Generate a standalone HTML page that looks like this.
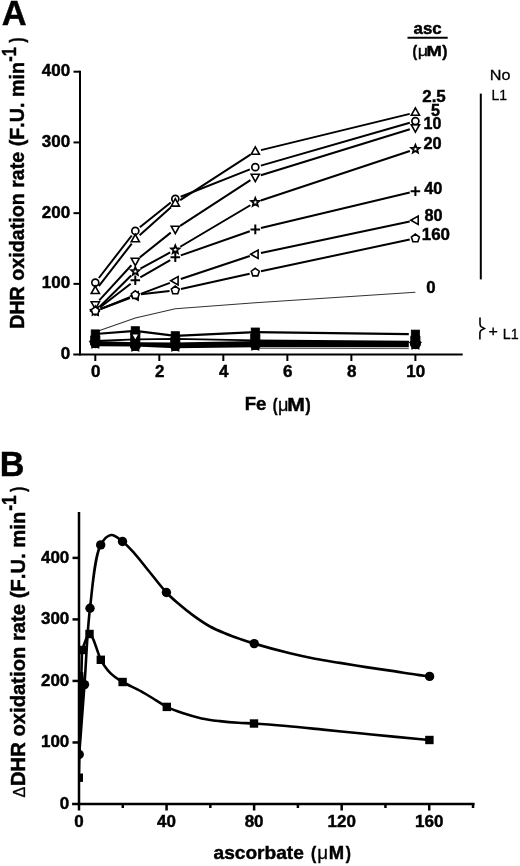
<!DOCTYPE html>
<html><head><meta charset="utf-8"><style>
html,body{margin:0;padding:0;background:#fff;}
body{width:520px;height:866px;overflow:hidden;}
svg{display:block;filter:grayscale(100%);}
text{font-family:"Liberation Sans", sans-serif;font-kerning:none;}
text[font-weight="bold"]{stroke:#000;stroke-width:0.45px;}
text[font-weight="normal"]{stroke:#000;stroke-width:0.3px;}
</style></head><body>
<svg width="520" height="866" viewBox="0 0 520 866">
<rect width="520" height="866" fill="#fff"/>
<g stroke="#000" stroke-width="2" fill="none">
<line x1="80" y1="70.7" x2="80" y2="355.6"/>
<line x1="73.3" y1="354.6" x2="462.7" y2="354.6"/>
<line x1="73.5" y1="283.88" x2="80" y2="283.88"/>
<line x1="73.5" y1="213.15" x2="80" y2="213.15"/>
<line x1="73.5" y1="142.43" x2="80" y2="142.43"/>
<line x1="73.5" y1="71.70" x2="80" y2="71.70"/>
<line x1="95.30" y1="354.6" x2="95.30" y2="361"/>
<line x1="159.32" y1="354.6" x2="159.32" y2="361"/>
<line x1="223.34" y1="354.6" x2="223.34" y2="361"/>
<line x1="287.36" y1="354.6" x2="287.36" y2="361"/>
<line x1="351.38" y1="354.6" x2="351.38" y2="361"/>
<line x1="415.40" y1="354.6" x2="415.40" y2="361"/>
</g>
<g fill="#000">
<text x="70.20" y="359.15" font-size="17" font-weight="bold" text-anchor="end">0</text>
<text x="70.20" y="288.43" font-size="17" font-weight="bold" text-anchor="end">100</text>
<text x="70.20" y="217.70" font-size="17" font-weight="bold" text-anchor="end">200</text>
<text x="70.20" y="146.98" font-size="17" font-weight="bold" text-anchor="end">300</text>
<text x="70.20" y="76.25" font-size="17" font-weight="bold" text-anchor="end">400</text>
<text x="95.70" y="377.15" font-size="17" font-weight="bold" text-anchor="middle">0</text>
<text x="159.72" y="377.15" font-size="17" font-weight="bold" text-anchor="middle">2</text>
<text x="223.74" y="377.15" font-size="17" font-weight="bold" text-anchor="middle">4</text>
<text x="287.76" y="377.15" font-size="17" font-weight="bold" text-anchor="middle">6</text>
<text x="351.78" y="377.15" font-size="17" font-weight="bold" text-anchor="middle">8</text>
<text x="415.80" y="377.15" font-size="17" font-weight="bold" text-anchor="middle">10</text>
</g>
<polyline fill="none" stroke="#333" stroke-width="1.1" points="95.30,332 135.30,318 175.30,308.8 255.30,302.8 415.40,292.3"/>
<polygon fill="#000" points="95.30,341.0 135.30,342.3 175.30,342.5 255.30,341.0 408.80,341.0 408.80,347.3 255.30,347.3 175.30,348.3 135.30,346.5 95.30,346.2"/>
<polyline fill="none" stroke="#000" stroke-width="1.8" points="95.30,341.0 135.30,339.4 175.30,338.8 255.30,340.4 408.80,341.6"/>
<polyline fill="none" stroke="#555" stroke-width="1" points="255.30,348.3 408.8,348.6"/>
<polyline fill="none" stroke="#000" stroke-width="2.2" points="95.30,334 135.30,330.8 175.30,335.8 255.30,332.1 408.80,334.2"/>
<g fill="#000" stroke="#000" stroke-width="0.8">
<polygon points="95.30,337.80 97.24,340.53 100.44,341.53 98.44,344.22 98.47,347.57 95.30,346.50 92.13,347.57 92.16,344.22 90.16,341.53 93.36,340.53" stroke-width="1.8" stroke-linejoin="miter"/>
<circle cx="95.30" cy="342.70" r="4.6" stroke-width="1.7"/>
<rect x="90.70" y="336.00" width="9.2" height="8.50"/>
<rect x="91.20" y="329.90" width="8.2" height="8.2"/>
<polygon points="135.30,340.60 137.24,343.33 140.44,344.33 138.44,347.02 138.47,350.37 135.30,349.30 132.13,350.37 132.16,347.02 130.16,344.33 133.36,343.33" stroke-width="1.8" stroke-linejoin="miter"/>
<circle cx="135.30" cy="345.50" r="4.6" stroke-width="1.7"/>
<rect x="130.70" y="332.80" width="9.2" height="14.50"/>
<rect x="131.20" y="326.70" width="8.2" height="8.2"/>
<polygon points="175.30,340.60 177.24,343.33 180.44,344.33 178.44,347.02 178.47,350.37 175.30,349.30 172.13,350.37 172.16,347.02 170.16,344.33 173.36,343.33" stroke-width="1.8" stroke-linejoin="miter"/>
<circle cx="175.30" cy="345.50" r="4.6" stroke-width="1.7"/>
<rect x="170.70" y="337.80" width="9.2" height="9.50"/>
<rect x="171.20" y="331.70" width="8.2" height="8.2"/>
<polygon points="255.30,339.60 257.24,342.33 260.44,343.33 258.44,346.02 258.47,349.37 255.30,348.30 252.13,349.37 252.16,346.02 250.16,343.33 253.36,342.33" stroke-width="1.8" stroke-linejoin="miter"/>
<circle cx="255.30" cy="344.50" r="4.6" stroke-width="1.7"/>
<rect x="250.70" y="334.10" width="9.2" height="12.20"/>
<rect x="251.20" y="328.00" width="8.2" height="8.2"/>
<polygon points="415.40,338.80 417.34,341.53 420.54,342.53 418.54,345.22 418.57,348.57 415.40,347.50 412.23,348.57 412.26,345.22 410.26,342.53 413.46,341.53" stroke-width="1.8" stroke-linejoin="miter"/>
<circle cx="415.40" cy="343.70" r="4.6" stroke-width="1.7"/>
<rect x="410.80" y="336.20" width="9.2" height="9.30"/>
<rect x="411.30" y="330.10" width="8.2" height="8.2"/>
</g>
<g fill="#fff" stroke="#000" stroke-width="1.6">
<path d="M135.30,341.00 L139.40,333.60 L131.20,333.60 Z"/>
</g>
<path fill="none" stroke="#000" stroke-width="2" d="M99.22,300.33 L131.38,265.27 M139.83,257.38 L170.77,232.62 M180.16,225.84 L250.44,180.16 M260.84,175.29 L409.86,129.21 "/>
<path fill="none" stroke="#000" stroke-width="2" d="M98.85,278.01 L131.75,235.49 M139.83,227.28 L170.77,202.52 M180.69,196.76 L249.91,169.34 M260.87,165.60 L409.83,122.70 "/>
<path fill="none" stroke="#000" stroke-width="2" d="M98.85,286.11 L131.75,243.59 M139.63,235.14 L170.97,207.16 M180.17,200.15 L250.43,154.65 M260.94,150.13 L409.76,113.87 "/>
<path fill="none" stroke="#000" stroke-width="2" d="M99.42,306.92 L131.18,275.48 M140.40,268.63 L170.20,252.47 M180.29,246.74 L250.31,205.26 M260.81,200.47 L409.89,151.03 "/>
<path fill="none" stroke="#000" stroke-width="2" d="M99.90,307.47 L130.70,283.83 M140.33,277.41 L170.27,260.19 M180.78,255.39 L249.82,231.31 M260.94,228.05 L409.76,192.55 "/>
<path fill="none" stroke="#000" stroke-width="2" d="M100.73,308.96 L129.87,298.04 M140.72,293.94 L169.88,282.86 M180.80,278.97 L249.80,256.03 M260.97,253.00 L409.73,221.40 "/>
<path fill="none" stroke="#000" stroke-width="2" d="M100.69,308.85 L129.91,297.15 M141.06,294.32 L169.54,290.98 M180.96,289.04 L249.64,273.76 M260.97,271.29 L409.73,239.51 "/>
<g fill="#fff" stroke="#000" stroke-width="1.6">
<path d="M95.30,309.20 L99.40,301.80 L91.20,301.80 Z"/>
<path d="M135.30,265.60 L139.40,258.20 L131.20,258.20 Z"/>
<path d="M175.30,233.60 L179.40,226.20 L171.20,226.20 Z"/>
<path d="M255.30,181.60 L259.40,174.20 L251.20,174.20 Z"/>
<path d="M415.40,132.10 L419.50,124.70 L411.30,124.70 Z"/>
<circle cx="95.30" cy="282.60" r="3.5" stroke-width="1.7"/>
<circle cx="135.30" cy="230.90" r="3.5" stroke-width="1.7"/>
<circle cx="175.30" cy="198.90" r="3.5" stroke-width="1.7"/>
<circle cx="255.30" cy="167.20" r="3.5" stroke-width="1.7"/>
<circle cx="415.40" cy="121.10" r="3.5" stroke-width="1.7"/>
<path d="M95.30,286.10 L99.40,293.50 L91.20,293.50 Z"/>
<path d="M135.30,234.40 L139.40,241.80 L131.20,241.80 Z"/>
<path d="M175.30,198.70 L179.40,206.10 L171.20,206.10 Z"/>
<path d="M255.30,146.90 L259.40,154.30 L251.20,154.30 Z"/>
<path d="M415.40,107.90 L419.50,115.30 L411.30,115.30 Z"/>
<polygon points="95.30,306.70 96.42,309.46 99.39,309.67 97.11,311.59 97.83,314.48 95.30,312.90 92.77,314.48 93.49,311.59 91.21,309.67 94.18,309.46" stroke-width="1.8" stroke-linejoin="miter"/>
<polygon points="135.30,267.10 136.42,269.86 139.39,270.07 137.11,271.99 137.83,274.88 135.30,273.30 132.77,274.88 133.49,271.99 131.21,270.07 134.18,269.86" stroke-width="1.8" stroke-linejoin="miter"/>
<polygon points="175.30,245.40 176.42,248.16 179.39,248.37 177.11,250.29 177.83,253.18 175.30,251.60 172.77,253.18 173.49,250.29 171.21,248.37 174.18,248.16" stroke-width="1.8" stroke-linejoin="miter"/>
<polygon points="255.30,198.00 256.42,200.76 259.39,200.97 257.11,202.89 257.83,205.78 255.30,204.20 252.77,205.78 253.49,202.89 251.21,200.97 254.18,200.76" stroke-width="1.8" stroke-linejoin="miter"/>
<polygon points="415.40,144.90 416.52,147.66 419.49,147.87 417.21,149.79 417.93,152.68 415.40,151.10 412.87,152.68 413.59,149.79 411.31,147.87 414.28,147.66" stroke-width="1.8" stroke-linejoin="miter"/>
<path d="M90.50,311.00 H100.10 M95.30,306.20 V315.80" stroke-width="2"/>
<path d="M130.50,280.30 H140.10 M135.30,275.50 V285.10" stroke-width="2"/>
<path d="M170.50,257.30 H180.10 M175.30,252.50 V262.10" stroke-width="2"/>
<path d="M250.50,229.40 H260.10 M255.30,224.60 V234.20" stroke-width="2"/>
<path d="M410.60,191.20 H420.20 M415.40,186.40 V196.00" stroke-width="2"/>
<path d="M90.70,311.00 L98.10,306.80 L98.10,315.20 Z"/>
<path d="M130.70,296.00 L138.10,291.80 L138.10,300.20 Z"/>
<path d="M170.70,280.80 L178.10,276.60 L178.10,285.00 Z"/>
<path d="M250.70,254.20 L258.10,250.00 L258.10,258.40 Z"/>
<path d="M410.80,220.20 L418.20,216.00 L418.20,224.40 Z"/>
<polygon points="95.30,306.80 99.29,309.70 97.77,314.40 92.83,314.40 91.31,309.70"/>
<polygon points="135.30,290.80 139.29,293.70 137.77,298.40 132.83,298.40 131.31,293.70"/>
<polygon points="175.30,286.10 179.29,289.00 177.77,293.70 172.83,293.70 171.31,289.00"/>
<polygon points="255.30,268.30 259.29,271.20 257.77,275.90 252.83,275.90 251.31,271.20"/>
<polygon points="415.40,234.10 419.39,237.00 417.87,241.70 412.93,241.70 411.41,237.00"/>
</g>
<g fill="#000">
<text x="422.21" y="102.40" font-size="17" font-weight="bold" textLength="23.56" lengthAdjust="spacingAndGlyphs">2.5</text>
<text x="431.01" y="115.95" font-size="17" font-weight="bold" textLength="8.94" lengthAdjust="spacingAndGlyphs">5</text>
<text x="423.49" y="129.20" font-size="17" font-weight="bold" textLength="17.87" lengthAdjust="spacingAndGlyphs">10</text>
<text x="423.43" y="149.40" font-size="17" font-weight="bold" textLength="18.24" lengthAdjust="spacingAndGlyphs">20</text>
<text x="424.25" y="194.30" font-size="17" font-weight="bold" textLength="18.22" lengthAdjust="spacingAndGlyphs">40</text>
<text x="424.38" y="220.60" font-size="17" font-weight="bold" textLength="18.08" lengthAdjust="spacingAndGlyphs">80</text>
<text x="421.73" y="239.60" font-size="17" font-weight="bold" textLength="28.26" lengthAdjust="spacingAndGlyphs">160</text>
<text x="426.13" y="292.50" font-size="17" font-weight="bold" textLength="9.36" lengthAdjust="spacingAndGlyphs">0</text>
<text x="413.61" y="34.40" font-size="15.6" font-weight="bold" textLength="28.09" lengthAdjust="spacingAndGlyphs">asc</text>
<line x1="407.5" y1="37.7" x2="447.7" y2="37.7" stroke="#000" stroke-width="1.9"/>
<text x="412.61" y="56.90" font-size="17" font-weight="bold" textLength="4.60" lengthAdjust="spacingAndGlyphs">(</text>
<text x="417.69" y="56.20" font-size="15.5" font-weight="normal" textLength="10.32" lengthAdjust="spacingAndGlyphs">μ</text>
<text x="426.57" y="56.20" font-size="15.5" font-weight="bold" textLength="15.37" lengthAdjust="spacingAndGlyphs">M</text>
<text x="442.18" y="56.90" font-size="17" font-weight="bold" textLength="5.19" lengthAdjust="spacingAndGlyphs">)</text>
</g>
<g fill="#000">
<text x="489.87" y="79.50" font-size="15.2" font-weight="normal" textLength="20.71" lengthAdjust="spacingAndGlyphs">No</text>
<text x="491.45" y="99.90" font-size="15.2" font-weight="normal" textLength="15.64" lengthAdjust="spacingAndGlyphs">L1</text>
<text x="488.62" y="336.30" font-size="14.3" font-weight="normal" textLength="9.38" lengthAdjust="spacingAndGlyphs">+</text>
<text x="502.73" y="338.60" font-size="14.3" font-weight="normal" textLength="15.87" lengthAdjust="spacingAndGlyphs">L1</text>
</g>
<line x1="480.8" y1="93.6" x2="480.8" y2="279.4" stroke="#000" stroke-width="2"/>
<path d="M480,317.6 L480,323.5 C480,325 480.3,326 481,326.6 L484.4,328.4 L481,330.3 C480.3,330.9 479.9,332 479.9,333.5 L479.9,339.6" fill="none" stroke="#000" stroke-width="1.6" stroke-linejoin="miter"/>
<g fill="#000">
<text x="1.64" y="25.40" font-size="35.5" font-weight="bold" textLength="24.87" lengthAdjust="spacingAndGlyphs">A</text>
<text x="-0.18" y="476.30" font-size="35.5" font-weight="bold" textLength="24.63" lengthAdjust="spacingAndGlyphs">B</text>
</g>
<g fill="#000">
<text transform="translate(23.60,327.50) rotate(-90)" x="-1.32" y="0" font-size="19.8" font-weight="bold" textLength="266.74" lengthAdjust="spacingAndGlyphs">DHR oxidation rate (F.U. min</text>
<text transform="translate(15.60,61.00) rotate(-90)" x="-0.64" y="0" font-size="19.8" font-weight="bold" textLength="14.60" lengthAdjust="spacingAndGlyphs">-1</text>
<text transform="translate(23.60,42.50) rotate(-90)" x="-0.01" y="0" font-size="19.8" font-weight="bold" textLength="5.07" lengthAdjust="spacingAndGlyphs">)</text>
<text x="244.66" y="410.30" font-size="19" font-weight="bold" textLength="21.68" lengthAdjust="spacingAndGlyphs">Fe</text>
<text x="272.69" y="410.50" font-size="19" font-weight="bold" textLength="4.72" lengthAdjust="spacingAndGlyphs">(</text>
<text x="277.88" y="410.50" font-size="19" font-weight="normal" textLength="10.45" lengthAdjust="spacingAndGlyphs">μ</text>
<text x="287.38" y="410.50" font-size="19" font-weight="bold" textLength="17.63" lengthAdjust="spacingAndGlyphs">M</text>
<text x="305.38" y="410.50" font-size="19" font-weight="bold" textLength="5.19" lengthAdjust="spacingAndGlyphs">)</text>
</g>
<g stroke="#000" stroke-width="2.5" fill="none">
<line x1="79" y1="511.9" x2="79" y2="805"/>
<line x1="72.1" y1="804" x2="474.6" y2="804"/>
<line x1="72.5" y1="742.47" x2="79" y2="742.47"/>
<line x1="72.5" y1="680.94" x2="79" y2="680.94"/>
<line x1="72.5" y1="619.41" x2="79" y2="619.41"/>
<line x1="72.5" y1="557.88" x2="79" y2="557.88"/>
<line x1="79.00" y1="804" x2="79.00" y2="810.5"/>
<line x1="122.78" y1="804" x2="122.78" y2="808"/>
<line x1="166.56" y1="804" x2="166.56" y2="810.5"/>
<line x1="210.34" y1="804" x2="210.34" y2="808"/>
<line x1="254.12" y1="804" x2="254.12" y2="810.5"/>
<line x1="297.90" y1="804" x2="297.90" y2="808"/>
<line x1="341.68" y1="804" x2="341.68" y2="810.5"/>
<line x1="385.46" y1="804" x2="385.46" y2="808"/>
<line x1="429.24" y1="804" x2="429.24" y2="810.5"/>
<line x1="473.02" y1="804" x2="473.02" y2="808"/>
</g>
<g fill="#000">
<text x="69.30" y="808.95" font-size="17" font-weight="bold" text-anchor="end">0</text>
<text x="69.30" y="747.42" font-size="17" font-weight="bold" text-anchor="end">100</text>
<text x="69.30" y="685.89" font-size="17" font-weight="bold" text-anchor="end">200</text>
<text x="69.30" y="624.36" font-size="17" font-weight="bold" text-anchor="end">300</text>
<text x="69.30" y="562.83" font-size="17" font-weight="bold" text-anchor="end">400</text>
<text x="79.00" y="826.60" font-size="17" font-weight="bold" text-anchor="middle">0</text>
<text x="166.56" y="826.60" font-size="17" font-weight="bold" text-anchor="middle">40</text>
<text x="254.12" y="826.60" font-size="17" font-weight="bold" text-anchor="middle">80</text>
<text x="341.68" y="826.60" font-size="17" font-weight="bold" text-anchor="middle">120</text>
<text x="429.24" y="826.60" font-size="17" font-weight="bold" text-anchor="middle">160</text>
<text transform="translate(25.00,797.00) rotate(-90)" x="-0.48" y="0" font-size="16.5" font-weight="normal" textLength="10.77" lengthAdjust="spacingAndGlyphs">Δ</text>
<text transform="translate(24.80,784.70) rotate(-90)" x="-1.35" y="0" font-size="20.2" font-weight="bold" textLength="274.31" lengthAdjust="spacingAndGlyphs">DHR oxidation rate (F.U. min</text>
<text transform="translate(16.30,510.20) rotate(-90)" x="-0.67" y="0" font-size="20.2" font-weight="bold" textLength="15.36" lengthAdjust="spacingAndGlyphs">-1</text>
<text transform="translate(24.80,491.70) rotate(-90)" x="-0.01" y="0" font-size="20.2" font-weight="bold" textLength="4.96" lengthAdjust="spacingAndGlyphs">)</text>
<text x="213.54" y="859.30" font-size="19" font-weight="bold" textLength="90.31" lengthAdjust="spacingAndGlyphs">ascorbate</text>
<text x="311.02" y="859.30" font-size="19" font-weight="bold" textLength="5.19" lengthAdjust="spacingAndGlyphs">(</text>
<text x="317.13" y="859.30" font-size="19" font-weight="normal" textLength="10.85" lengthAdjust="spacingAndGlyphs">μ</text>
<text x="328.67" y="859.30" font-size="19" font-weight="bold" textLength="15.37" lengthAdjust="spacingAndGlyphs">M</text>
<text x="345.68" y="859.30" font-size="19" font-weight="bold" textLength="5.19" lengthAdjust="spacingAndGlyphs">)</text>
</g>
<defs><clipPath id="cpB"><rect x="79.5" y="480" width="440" height="323"/></clipPath></defs>
<g clip-path="url(#cpB)">
<polygon points="79.5,752 79.5,672 83.2,672 84.6,686" fill="#000"/>
<path d="M79.2,754.5 L84.50,684.60 C86.33,659.13 87.09,632.40 90.00,608.20 C92.66,586.04 94.55,556.41 100.70,544.90 C103.62,539.44 107.46,535.44 111.20,535.00 C114.75,534.58 118.86,538.72 122.50,541.50 C126.63,544.65 130.37,548.85 134.40,553.30 C139.11,558.49 143.75,564.82 148.80,571.00 C154.37,577.82 161.00,586.73 166.40,592.50 C170.43,596.81 173.56,599.52 177.70,603.10 C182.36,607.14 187.75,611.52 193.10,615.40 C198.51,619.33 204.38,623.40 210.00,626.50 C215.14,629.34 220.23,631.37 225.40,633.50 C230.50,635.60 235.83,637.46 240.80,639.20 C245.41,640.81 248.63,641.93 254.20,643.60 C263.23,646.30 279.10,650.64 290.00,653.30 C299.05,655.51 306.65,657.15 315.00,658.75 C323.31,660.35 331.58,661.52 340.00,662.90 C348.58,664.31 357.34,665.76 366.00,667.10 C374.64,668.43 383.26,669.60 391.90,670.90 C400.56,672.20 410.94,673.92 417.90,674.90 C422.56,675.56 425.70,675.90 429.60,676.40" fill="none" stroke="#000" stroke-width="2.6"/>
<path d="M78.8,777.7 L82.00,650.00 C84.50,644.67 86.79,633.97 89.50,634.00 C92.93,634.04 97.99,654.39 100.80,659.80 C102.16,662.41 102.82,663.43 104.20,665.40 C105.89,667.82 108.39,671.04 110.40,673.10 C111.97,674.71 113.23,675.67 115.00,677.00 C117.17,678.63 119.44,680.18 122.60,682.00 C127.37,684.75 135.37,688.08 141.20,691.30 C146.61,694.29 151.90,697.80 156.50,700.60 C160.27,702.90 162.86,704.95 166.80,706.90 C171.56,709.26 177.61,711.41 183.30,713.30 C189.20,715.26 195.47,717.10 201.60,718.40 C207.64,719.68 213.71,720.37 219.80,721.10 C225.88,721.83 232.21,722.40 238.10,722.80 C243.58,723.18 247.77,723.12 254.00,723.50 C262.92,724.04 275.36,725.02 286.50,726.00 C298.32,727.04 310.83,728.38 323.00,729.60 C335.19,730.82 347.41,732.08 359.60,733.30 C371.77,734.52 384.21,735.76 396.10,736.90 C407.45,737.99 418.30,738.97 429.40,740.00" fill="none" stroke="#000" stroke-width="2.6"/>
<g fill="#000">
<circle cx="79.2" cy="754.5" r="4.7"/>
<circle cx="84.5" cy="684.6" r="4.7"/>
<circle cx="90" cy="608.2" r="4.7"/>
<circle cx="100.7" cy="544.9" r="4.7"/>
<circle cx="122.5" cy="541.5" r="4.7"/>
<circle cx="166.4" cy="592.5" r="4.7"/>
<circle cx="254.2" cy="643.6" r="4.7"/>
<circle cx="429.6" cy="676.4" r="4.7"/>
<rect x="74.6" y="773.5" width="8.4" height="8.4"/>
<rect x="77.8" y="645.8" width="8.4" height="8.4"/>
<rect x="85.3" y="629.8" width="8.4" height="8.4"/>
<rect x="96.6" y="655.5999999999999" width="8.4" height="8.4"/>
<rect x="118.39999999999999" y="677.8" width="8.4" height="8.4"/>
<rect x="162.60000000000002" y="702.6999999999999" width="8.4" height="8.4"/>
<rect x="249.8" y="719.3" width="8.4" height="8.4"/>
<rect x="425.2" y="735.8" width="8.4" height="8.4"/>
</g>
</g>
</svg>
</body></html>
